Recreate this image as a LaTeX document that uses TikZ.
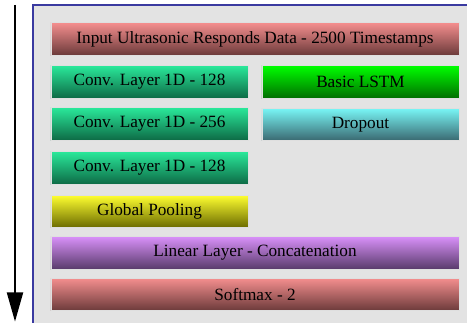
\documentclass[tikz,border=0pt]{standalone}
\usepackage{fontspec}
\setmainfont{Liberation Serif}
\usepackage{tikz}
\usetikzlibrary{arrows.meta, positioning}
\definecolor{lpanel}{HTML}{E3E3E3}
\definecolor{lframe}{HTML}{3A3AA0}
\definecolor{lredtop}{HTML}{F48E8E}
\definecolor{lredbot}{HTML}{6B3A3A}
\definecolor{lconvtop}{HTML}{2AE89A}
\definecolor{lconvbot}{HTML}{0D6A45}
\definecolor{llstmtop}{HTML}{00FF00}
\definecolor{llstmbot}{HTML}{006E00}
\definecolor{ldroptop}{HTML}{78F6F6}
\definecolor{ldropbot}{HTML}{3A6870}
\definecolor{lpooltop}{HTML}{FFFF30}
\definecolor{lpoolbot}{HTML}{6A6A00}
\definecolor{llintop}{HTML}{D890F8}
\definecolor{llinbot}{HTML}{583A6A}
\tikzset{
  layerbox/.style={draw=white!75!gray, line width=0.4pt, minimum height=0.65cm,
                   inner sep=0pt, font=\fontsize{9.8}{11}\selectfont},
  widebox/.style={layerbox, minimum width=8.16cm},
  halfbox/.style={layerbox, minimum width=3.94cm},
  redbox/.style={top color=lredtop, bottom color=lredbot},
  convbox/.style={halfbox, top color=lconvtop, bottom color=lconvbot},
  lstmbox/.style={halfbox, top color=llstmtop, bottom color=llstmbot},
  dropbox/.style={halfbox, top color=ldroptop, bottom color=ldropbot},
  poolbox/.style={halfbox, top color=lpooltop, bottom color=lpoolbot},
  linbox/.style={widebox, top color=llintop, bottom color=llinbot},
  flowarr/.style={-{Triangle[length=0.58cm, width=0.32cm]}, line width=1.1pt, black},
}
\begin{document}
\begin{tikzpicture}
  \useasboundingbox (0,0) rectangle (9.34,6.46);
  % panel
  \fill[lpanel] (0.66,0) rectangle (9.34,6.36);
  \draw[lframe, line width=0.8pt] (0.66,0) -- (0.66,6.36) -- (9.34,6.36);

  % layers
  \node[widebox, redbox] (input) at (5.10,5.68)
    {Input Ultrasonic Responds Data - 2500 Timestamps};
  \node[convbox] (conv1) at (2.99,4.82) {Conv. Layer 1D - 128};
  \node[convbox] (conv2) at (2.99,3.98) {Conv. Layer 1D - 256};
  \node[convbox] (conv3) at (2.99,3.10) {Conv. Layer 1D - 128};
  \node[poolbox] (pool) at (2.99,2.23) {Global Pooling};
  \node[lstmbox] (lstm) at (7.21,4.82) {Basic LSTM};
  \node[dropbox] (drop) at (7.21,3.97) {Dropout};
  \node[linbox] (concat) at (5.10,1.40) {Linear Layer - Concatenation};
  \node[widebox, redbox] (softmax) at (5.10,0.57) {Softmax - 2};

  % flow direction
  \coordinate (flowtop) at (0.30,6.36);
  \coordinate (flowbot) at (0.30,0.03);
  \draw[flowarr] (flowtop) -- (flowbot);
\end{tikzpicture}
\end{document}
